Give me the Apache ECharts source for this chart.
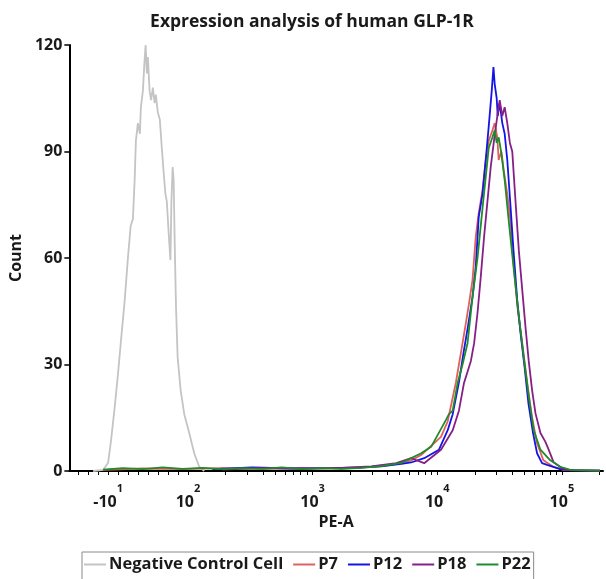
<!DOCTYPE html>
<html>
<head>
<meta charset="utf-8">
<script src="https://cdn.jsdelivr.net/npm/echarts@6/dist/echarts.min.js"></script>
<style>
  html, body { margin: 0; padding: 0; background: #fff; }
  #root { width: 606px; height: 579px; }
</style>
</head>
<body>
<div id="root"></div>
<script>
// x values are display positions on the biexponential PE-A axis (2 = 10^2, 3 = 10^3 ...)
var negX = [1.239, 1.319, 1.359, 1.383, 1.412, 1.439, 1.463, 1.492, 1.518, 1.540, 1.558, 1.572, 1.582, 1.598, 1.614, 1.622, 1.638, 1.652, 1.660, 1.670, 1.678, 1.692, 1.704, 1.718, 1.732, 1.742, 1.758, 1.774, 1.790, 1.805, 1.819, 1.830, 1.845, 1.859, 1.867, 1.877, 1.885, 1.893, 1.904, 1.917, 1.941, 1.970, 2.010, 2.050, 2.090, 2.130];
var negY = [0, 0.3, 2.3, 8.7, 18, 27.6, 37, 48, 60, 69, 71, 82, 93, 98, 95, 102.5, 107, 116, 120, 112, 116.6, 107, 104.5, 108, 103.6, 106, 101, 99, 91, 84, 78, 76, 67, 59.4, 76, 85.6, 82, 65, 46, 32, 22.8, 16, 10.7, 5, 1.2, 0];

var p7X = [1.319, 1.638, 1.957, 2.276, 2.595, 2.914, 3.233, 3.472, 3.672, 3.791, 3.871, 4.030, 4.084, 4.150, 4.203, 4.230, 4.254, 4.283, 4.309, 4.333, 4.363, 4.389, 4.413, 4.443, 4.461, 4.482, 4.493, 4.514, 4.533, 4.562, 4.589, 4.612, 4.644, 4.682, 4.722, 4.761, 4.801, 4.852, 4.931, 5.011, 5.305];
var p7Y = [0.3, 0.7, 0.5, 0.8, 0.6, 0.9, 0.7, 1.2, 2.0, 3.0, 4.5, 9.6, 14, 25, 36, 41.7, 47, 53.8, 66, 72.7, 79, 87.6, 93, 96, 98, 94, 87.6, 90, 84.8, 78, 70, 58.6, 46, 36, 24.8, 15, 7.8, 3, 1.2, 0.3, 0.1];

var p12X = [2.196, 2.516, 2.835, 3.154, 3.392, 3.552, 3.712, 3.791, 3.895, 4.014, 4.084, 4.124, 4.174, 4.214, 4.246, 4.283, 4.309, 4.333, 4.363, 4.389, 4.413, 4.437, 4.451, 4.461, 4.477, 4.485, 4.501, 4.522, 4.541, 4.562, 4.589, 4.612, 4.642, 4.668, 4.700, 4.732, 4.769, 4.801, 4.841, 4.881, 4.987, 5.106, 5.305];
var p12Y = [0.5, 1.0, 0.7, 0.8, 1.0, 1.3, 2.0, 2.4, 3.6, 6, 11.5, 16, 25, 34, 40.6, 49, 57.5, 71.6, 78, 87.6, 97, 107, 113.8, 109, 105, 100, 103.6, 98, 95, 87.6, 74, 62, 48, 39, 29.5, 19, 10.6, 5, 2.2, 1.7, 0.5, 0.2, 0.1];

var p18X = [2.276, 2.595, 2.914, 3.233, 3.472, 3.672, 3.791, 3.895, 4.030, 4.124, 4.174, 4.214, 4.270, 4.296, 4.323, 4.349, 4.376, 4.403, 4.429, 4.455, 4.482, 4.501, 4.522, 4.541, 4.562, 4.583, 4.602, 4.628, 4.655, 4.682, 4.708, 4.734, 4.761, 4.788, 4.828, 4.868, 4.894, 4.933, 5.001, 5.067, 5.305];
var p18Y = [0.4, 0.8, 0.6, 0.9, 1.3, 2.2, 3.6, 2.2, 6, 11.5, 17, 24.7, 31, 36, 44.5, 54.6, 66, 76, 85.6, 93, 100, 104.5, 100, 102.5, 98, 92.4, 90, 76, 62, 51, 40.6, 31, 22.8, 16.3, 10.7, 8.2, 6, 2.5, 0.8, 0.2, 0.1];

var p22X = [1.319, 1.478, 1.638, 1.797, 1.957, 2.116, 2.276, 2.435, 2.595, 2.754, 2.914, 3.073, 3.233, 3.392, 3.552, 3.712, 3.871, 3.951, 4.070, 4.094, 4.124, 4.163, 4.203, 4.243, 4.283, 4.323, 4.363, 4.389, 4.413, 4.443, 4.461, 4.477, 4.493, 4.514, 4.541, 4.575, 4.612, 4.655, 4.694, 4.734, 4.774, 4.828, 4.907, 4.987, 5.067, 5.305];
var p22Y = [0.4, 0.8, 0.5, 1.0, 0.6, 0.9, 0.5, 0.8, 0.6, 1.0, 0.5, 0.8, 0.6, 0.9, 1.4, 2.3, 5, 6.8, 14.4, 16, 17, 24.7, 30, 36, 49, 60, 74, 82.8, 91, 94, 96, 92.4, 94, 89.6, 82, 70, 57.5, 43.4, 32, 21, 11.5, 6, 3, 1.2, 0.3, 0.1];

var seriesNames = ['Negative Control Cell', 'P7', 'P12', 'P18', 'P22'];
var seriesColors = ['#c4c4c4', '#e0605c', '#1414e6', '#861f86', '#1e8c2a'];

// tick labels: position, base, exponent
var labelPos = [1.359, 2, 3, 4, 5];
var labelBase = ['-10', '10', '10', '10', '10'];
var labelExp = ['1', '2', '3', '4', '5'];
var lowTicks = [1.12, 1.2, 1.28, 1.359, 1.44, 1.52, 1.6, 1.68, 1.76, 1.84, 1.92];

var xMin = 1.048, xMax = 5.33;

function pairs( xs, ys )
{
	return xs.map( function( x, i ){ return [ x, ys[i] ]; } );
}

var tickVals = lowTicks.slice();
[2, 3, 4, 5].forEach( function( d ){
	for( var k = 1; k <= 9; k++ ){
		var v = d + Math.log10( k );
		if( v <= xMax ) tickVals.push( v );
	}
});

var dataSets = [ pairs(negX, negY), pairs(p7X, p7Y), pairs(p12X, p12Y), pairs(p18X, p18Y), pairs(p22X, p22Y) ];

var font = 'Open Sans';

var option = {
	animation: false,
	backgroundColor: '#fff',
	title: {
		text: 'Expression analysis of human GLP-1R',
		left: 307, textAlign: 'center', top: 8,
		textStyle: { fontFamily: font, fontSize: 17.5, fontWeight: 'bold', color: '#1a1a1a' }
	},
	legend: {
		data: seriesNames,
		left: 82, top: 552,
		padding: [4, 3, 8, 2],
		borderColor: '#8a8a8a', borderWidth: 1,
		icon: 'rect', itemWidth: 22, itemHeight: 2, itemGap: 10,
		textStyle: { fontFamily: font, fontSize: 16.5, fontWeight: 'bold', color: '#1a1a1a', padding: [0, 0, 0, -2] }
	},
	grid: { left: 66, right: 3, top: 45, bottom: 108 },
	xAxis: {
		type: 'value', min: xMin, max: xMax,
		name: 'PE-A', nameLocation: 'middle', nameGap: 42,
		nameTextStyle: { fontFamily: font, fontSize: 16, fontWeight: 'bold', color: '#1a1a1a' },
		axisLine: { onZero: false, lineStyle: { color: '#000', width: 2 } },
		axisTick: { customValues: tickVals, length: 4, lineStyle: { color: '#000', width: 1 } },
		splitLine: { show: false },
		axisLabel: {
			customValues: labelPos, margin: 12,
			formatter: function( v ){
				var i = labelPos.indexOf( v );
				if( i < 0 ) return '';
				return '{b|' + labelBase[i] + '}{e|' + labelExp[i] + '}';
			},
			rich: {
				b: { fontFamily: font, fontSize: 16, fontWeight: 'bold', color: '#1a1a1a', verticalAlign: 'bottom' },
				e: { fontFamily: font, fontSize: 11, fontWeight: 'bold', color: '#1a1a1a', verticalAlign: 'bottom', padding: [0, 0, 16, 0] }
			}
		}
	},
	yAxis: {
		type: 'value', min: 0, max: 120, interval: 30,
		name: 'Count', nameLocation: 'middle', nameGap: 37, nameRotate: 90,
		nameTextStyle: { fontFamily: font, fontSize: 16, fontWeight: 'bold', color: '#1a1a1a' },
		axisLine: { show: true, lineStyle: { color: '#000', width: 2 } },
		axisTick: { show: true, length: 5, lineStyle: { color: '#000', width: 1.5 } },
		splitLine: { show: false },
		axisLabel: { margin: 7, fontFamily: font, fontSize: 16, fontWeight: 'bold', color: '#1a1a1a' }
	},
	series: seriesNames.map( function( name, i ){
		return {
			name: name, type: 'line', data: dataSets[i],
			showSymbol: false, symbol: 'none', z: 2 + i,
			itemStyle: { color: seriesColors[i] },
			lineStyle: { color: seriesColors[i], width: 1.8 }
		};
	})
};

var chart = echarts.init( document.getElementById('root') );
chart.setOption( option );
</script>
</body>
</html>
